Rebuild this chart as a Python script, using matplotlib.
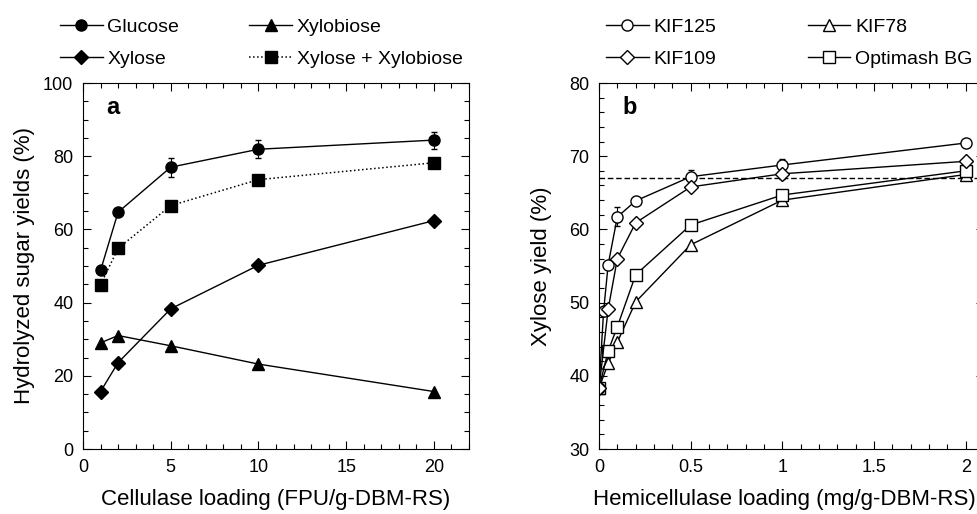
import matplotlib as mpl
import matplotlib.pyplot as plt
from matplotlib.ticker import MultipleLocator

mpl.use('Agg')
plt.rcParams['font.family'] = ['Liberation Sans', 'DejaVu Sans']

# panel a data
cell_load = [1, 2, 5, 10, 20]
glucose = [48.8, 64.7, 77.0, 81.9, 84.4]
glucose_err = [0.0, 0.0, 2.6, 2.5, 2.3]
xylose = [15.7, 23.6, 38.3, 50.2, 62.4]
xylobiose = [29.0, 31.0, 28.2, 23.2, 15.7]
xyl_sum = [44.9, 54.8, 66.5, 73.6, 78.2]

# panel b data
kif125_x = [0, 0.025, 0.05, 0.1, 0.2, 0.5, 1, 2]
kif125 = [38.3, 48.8, 55.2, 61.7, 63.9, 67.2, 68.8, 71.8]
kif125_err = [0, 0, 0, 1.3, 0, 0.9, 0.8, 0]
kif109_x = [0, 0.05, 0.1, 0.2, 0.5, 1, 2]
kif109 = [38.3, 49.1, 56.0, 60.9, 65.8, 67.6, 69.3]
kif109_err = [0, 0, 0, 0, 0, 0.7, 0]
kif78_x = [0, 0.05, 0.1, 0.2, 0.5, 1, 2]
kif78 = [38.3, 41.7, 44.6, 50.1, 57.9, 64.0, 67.5]
opt_x = [0, 0.05, 0.1, 0.2, 0.5, 1, 2]
optimash = [38.3, 43.4, 46.7, 53.8, 60.6, 64.7, 68.0]
ref_line = 67.0

W, H = 978, 514
fig = plt.figure(figsize=(W / 100, H / 100), dpi=100)

def style(ax):
    ax.tick_params(which='both', direction='in', top=True, right=True, labelsize=13, width=0.8)
    ax.tick_params(which='major', length=6, pad=7)
    ax.tick_params(which='minor', length=3.5)
    for s in ax.spines.values():
        s.set_linewidth(0.8)

leg_kw = dict(ncol=2, frameon=False, fontsize=14, loc='upper left',
              bbox_transform=fig.transFigure, handlelength=2.2, handletextpad=0.25,
              labelspacing=0.75, borderaxespad=0.1)

# ---- panel a ----
ax1 = fig.add_axes([83 / W, (H - 449) / H, (469 - 83) / W, (449 - 83) / H])
lk = dict(color='black', lw=1.0)
h1 = ax1.errorbar(cell_load, glucose, yerr=glucose_err, marker='o', ms=8, capsize=2.5,
                  elinewidth=0.8, **lk)
h2, = ax1.plot(cell_load, xylose, marker='D', ms=7, **lk)
h3, = ax1.plot(cell_load, xylobiose, marker='^', ms=8, **lk)
h4, = ax1.plot(cell_load, xyl_sum, marker='s', ms=8, ls=':', color='black', lw=1.1)
ax1.set_xlim(0, 22)
ax1.set_ylim(0, 100)
ax1.xaxis.set_major_locator(MultipleLocator(5))
ax1.xaxis.set_minor_locator(MultipleLocator(1))
ax1.yaxis.set_major_locator(MultipleLocator(20))
ax1.yaxis.set_minor_locator(MultipleLocator(5))
style(ax1)
ax1.set_xlabel('Cellulase loading (FPU/g-DBM-RS)', fontsize=16, labelpad=9.5)
ax1.set_ylabel('Hydrolyzed sugar yields (%)', fontsize=16, labelpad=6)
ax1.text(0.06, 0.965, 'a', transform=ax1.transAxes, fontsize=17, fontweight='bold', va='top')
ax1.legend([h1[0], h2, h3, h4], ['Glucose', 'Xylose', 'Xylobiose', 'Xylose + Xylobiose'],
           bbox_to_anchor=(50 / W, 0.984), columnspacing=3.6, **leg_kw)

# ---- panel b ----
ax2 = fig.add_axes([599 / W, (H - 449) / H, (984 - 599) / W, (449 - 83) / H])
ok = dict(color='black', lw=1.0, mfc='white', mec='black', mew=1.0)
ax2.axhline(ref_line, color='black', ls='--', lw=1.0, dashes=(4, 2))
g1 = ax2.errorbar(kif125_x, kif125, yerr=kif125_err, marker='o', ms=8, capsize=2.5,
                  elinewidth=0.8, **ok)
g2 = ax2.errorbar(kif109_x, kif109, yerr=kif109_err, marker='D', ms=7, capsize=2.5,
                  elinewidth=0.8, **ok)
g3, = ax2.plot(kif78_x, kif78, marker='^', ms=8, **ok)
g4, = ax2.plot(opt_x, optimash, marker='s', ms=8, **ok)
ax2.set_xlim(0, 2.1)
ax2.set_ylim(30, 80)
ax2.xaxis.set_major_locator(MultipleLocator(0.5))
ax2.xaxis.set_minor_locator(MultipleLocator(0.1))
ax2.yaxis.set_major_locator(MultipleLocator(10))
ax2.yaxis.set_minor_locator(MultipleLocator(2))
ax2.set_xticks([0, 0.5, 1, 1.5, 2])
ax2.set_xticklabels(['0', '0.5', '1', '1.5', '2'])
style(ax2)
ax2.set_xlabel('Hemicellulase loading (mg/g-DBM-RS)', fontsize=16, labelpad=9.5)
ax2.xaxis.set_label_coords(0.482, -0.108)
ax2.xaxis.label.set_va('top')
ax2.set_ylabel('Xylose yield (%)', fontsize=16, labelpad=12)
ax2.text(0.06, 0.965, 'b', transform=ax2.transAxes, fontsize=17, fontweight='bold', va='top')
ax2.legend([g1[0], g2[0], g3, g4], ['KIF125', 'KIF109', 'KIF78', 'Optimash BG'],
           bbox_to_anchor=(596 / W, 0.984), columnspacing=4.7, **leg_kw)

fig.savefig('out.png', dpi=100)
